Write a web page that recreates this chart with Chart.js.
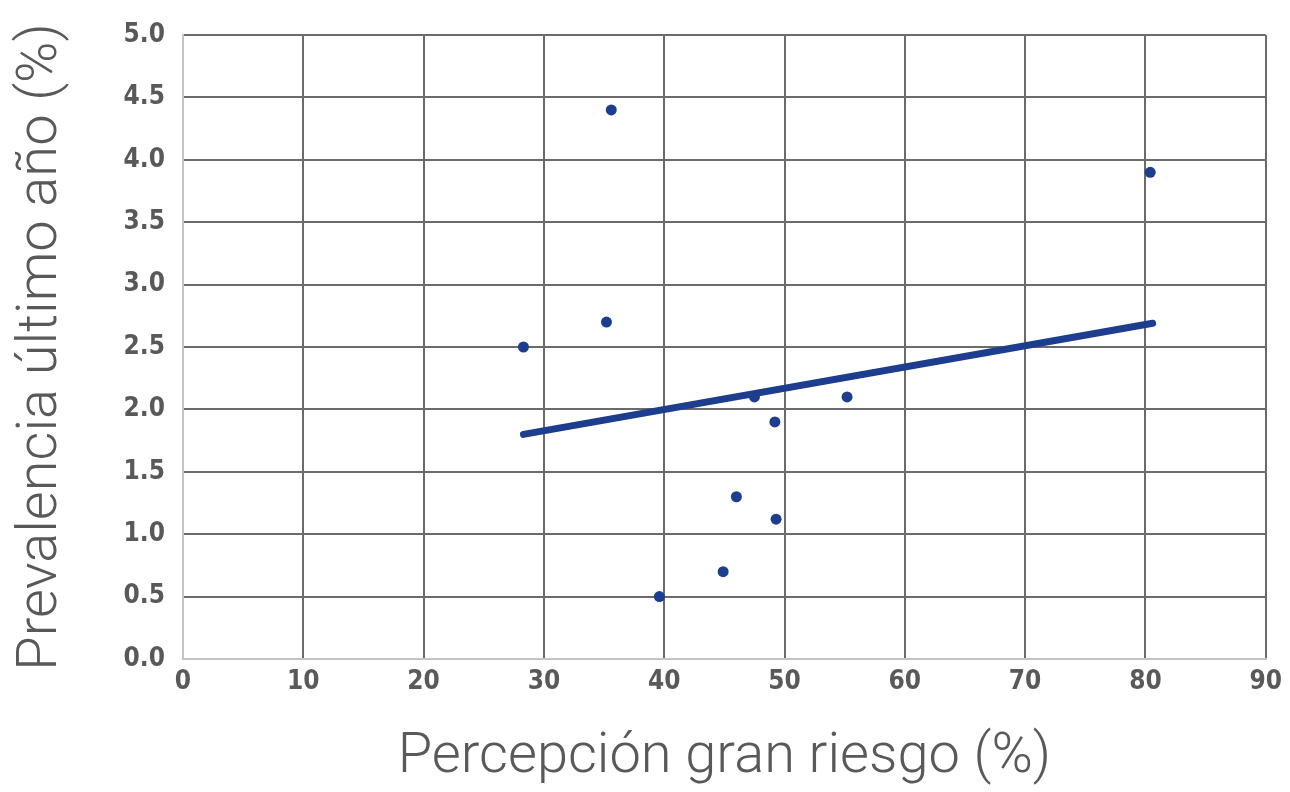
<!DOCTYPE html>
<html>
<head>
<meta charset="utf-8">
<script src="https://cdn.jsdelivr.net/npm/chart.js@4.4.1/dist/chart.umd.min.js"></script>
<style>
  html, body { margin: 0; padding: 0; background: #fff; }
  #wrap { width: 1290px; height: 792px; position: relative; }
</style>
</head>
<body>
<div id="wrap"><canvas id="myChart"></canvas></div>
<script>
// percepción gran riesgo (%) vs prevalencia último año (%)
const percepcion = [28.3, 35.2, 35.6, 39.6, 44.9, 46.0, 47.5, 49.2, 49.3, 55.2, 80.4];
const prevalencia = [2.5, 2.7, 4.4, 0.5, 0.7, 1.3, 2.1, 1.9, 1.12, 2.1, 3.9];
// linear trend drawn in the original
const trendX = [28.3, 80.6];
const trendY = [1.80, 2.69];

const xTitle = 'Percepción gran riesgo (%)';
const yTitle = 'Prevalencia último año (%)';

const blue = '#1d3e8e';
const gridDark = '#6b6b6b';
const gridLight = '#c4c4c4';
const tickFont = { family: "'DejaVu Sans Condensed', 'Liberation Sans Narrow', sans-serif", size: 26, weight: 'bold' };
const titleFont = { family: "Roboto, 'Noto Sans', sans-serif", size: 56, weight: '300' };

const points = percepcion.map((x, i) => ({ x: x, y: prevalencia[i] }));
const trend = trendX.map((x, i) => ({ x: x, y: trendY[i] }));

const ctx = document.getElementById('myChart').getContext('2d');
new Chart(ctx, {
  type: 'scatter',
  data: {
    datasets: [
      {
        label: 'datos',
        data: points,
        backgroundColor: blue,
        borderColor: blue,
        pointRadius: 5.5,
        pointBorderWidth: 0,
        order: 2
      },
      {
        label: 'tendencia',
        type: 'line',
        data: trend,
        borderColor: blue,
        borderWidth: 7,
        borderCapStyle: 'round',
        pointRadius: 0,
        fill: false,
        order: 1
      }
    ]
  },
  options: {
    responsive: true,
    maintainAspectRatio: false,
    animation: false,
    layout: { padding: { top: 35, right: 24, bottom: 0, left: 0 } },
    plugins: {
      legend: { display: false },
      tooltip: { enabled: false }
    },
    scales: {
      x: {
        type: 'linear',
        min: 0,
        max: 90,
        ticks: { stepSize: 10, color: '#595959', font: tickFont, padding: 8 },
        grid: {
          drawTicks: false,
          lineWidth: 2,
          color: c => (c.tick && c.tick.value === 0 ? gridLight : gridDark)
        },
        border: { display: true, color: gridLight, width: 2 },
        title: { display: true, text: xTitle, color: '#595959', font: titleFont, padding: { top: 16, bottom: 0 } },
        afterFit: s => { s.height = 133; }
      },
      y: {
        type: 'linear',
        min: 0,
        max: 5,
        ticks: {
          stepSize: 0.5,
          color: '#595959',
          font: tickFont,
          padding: 18,
          callback: v => Number(v).toFixed(1)
        },
        grid: {
          drawTicks: false,
          lineWidth: 2,
          color: c => (c.tick && c.tick.value === 0 ? gridLight : gridDark)
        },
        border: { display: true, color: gridLight, width: 2 },
        title: { display: true, text: yTitle, color: '#595959', font: titleFont, padding: { top: 8, bottom: 0 } },
        afterFit: s => { s.width = 183; }
      }
    }
  }
});
</script>
</body>
</html>
